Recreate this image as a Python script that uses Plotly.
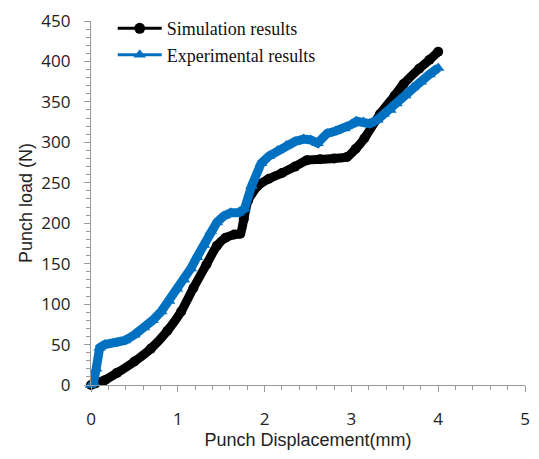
import plotly.graph_objects as go

sim_x = [0, 0.05, 0.16, 0.3, 0.5, 0.69, 0.88, 1.04, 1.18, 1.33, 1.45, 1.55, 1.65, 1.72,
         1.76, 1.81, 1.92, 2.05, 2.2, 2.35, 2.49, 2.64, 2.8, 2.95, 3.05, 3.15, 3.33, 3.5,
         3.6, 3.78, 3.9, 4.0]
sim_y = [0, 2, 6, 15, 29, 45, 67, 91, 120, 149, 172, 182, 186, 187,
         205, 228, 246, 255, 262, 270, 278, 279, 280, 282, 292, 305, 335, 358,
         372, 391, 402, 412]

exp_x = [0, 0.03, 0.06, 0.1, 0.16, 0.25, 0.39, 0.5, 0.61, 0.71, 0.81, 0.9, 0.99, 1.07,
         1.15, 1.22, 1.3, 1.38, 1.45, 1.53, 1.61, 1.7, 1.77, 1.85, 1.96, 2.05, 2.15, 2.25,
         2.35, 2.45, 2.53, 2.61, 2.72, 2.82, 2.92, 3.0, 3.06, 3.14, 3.21, 3.3, 3.37, 3.45,
         3.52, 3.62, 3.71, 3.8, 3.9, 4.0]
exp_y = [0, 3, 20, 46, 50, 51, 55, 62, 71, 80, 91, 104, 119, 130,
         144, 158, 173, 190, 201, 209, 213, 213, 218, 246, 274, 283, 290, 296,
         301, 304, 303, 299, 311, 314, 317, 322, 326, 325, 323, 328, 335, 340,
         348, 358, 368, 375, 384, 392]

names = ["Simulation results", "Experimental results"]
colors = ["#000000", "#0070C0"]
symbols = ["circle", "triangle-up"]

fig = go.Figure()
fig.add_trace(go.Scatter(x=sim_x, y=sim_y, name=names[0], mode="lines+markers", showlegend=False,
                         line=dict(color=colors[0], width=9, shape="spline", smoothing=0.6),
                         marker=dict(symbol=symbols[0], size=10, color=colors[0]),
                         cliponaxis=False))
fig.add_trace(go.Scatter(x=exp_x, y=exp_y, name=names[1], mode="lines+markers", showlegend=False,
                         line=dict(color=colors[1], width=9),
                         marker=dict(symbol=symbols[1], size=11, color=colors[1]),
                         cliponaxis=False))
# legend entries (thin line + marker, as in the original legend)
for n, c, s in zip(names, colors, symbols):
    fig.add_trace(go.Scatter(x=[None], y=[None], name=n, mode="lines+markers",
                             line=dict(color=c, width=3),
                             marker=dict(symbol=s, size=11, color=c)))

axis_common = dict(showgrid=False, zeroline=False, showline=True, linecolor="#9a9a9a",
                   linewidth=1.2, ticks="outside", tickcolor="#9a9a9a", ticklen=6,
                   tickfont=dict(family="Open Sans, Arial", size=17, color="#222222"))

fig.update_xaxes(range=[0, 5], dtick=1, tick0=0,
                 minor=dict(dtick=0.2, ticks="outside", ticklen=4, tickcolor="#9a9a9a"),
                 title=dict(text="Punch Displacement(mm)", standoff=4,
                            font=dict(family="Arial", size=18, color="#222222")),
                 ticklabelstandoff=12, **axis_common)
fig.update_yaxes(range=[0, 450], dtick=50, tick0=0,
                 minor=dict(dtick=10, ticks="outside", ticklen=4, tickcolor="#9a9a9a"),
                 title=dict(text="Punch load (N)", standoff=4,
                            font=dict(family="Arial", size=18, color="#222222")),
                 ticklabelstandoff=10, **axis_common)

fig.update_layout(
    width=539, height=459,
    margin=dict(l=91, r=9, t=16, b=74),
    plot_bgcolor="white", paper_bgcolor="white",
    legend=dict(x=0.05, y=1.03, xanchor="left", yanchor="top",
                font=dict(family="Liberation Serif", size=18, color="#111111"),
                bgcolor="rgba(0,0,0,0)", itemwidth=44, tracegroupgap=0),
)

fig.write_html("out.html")
